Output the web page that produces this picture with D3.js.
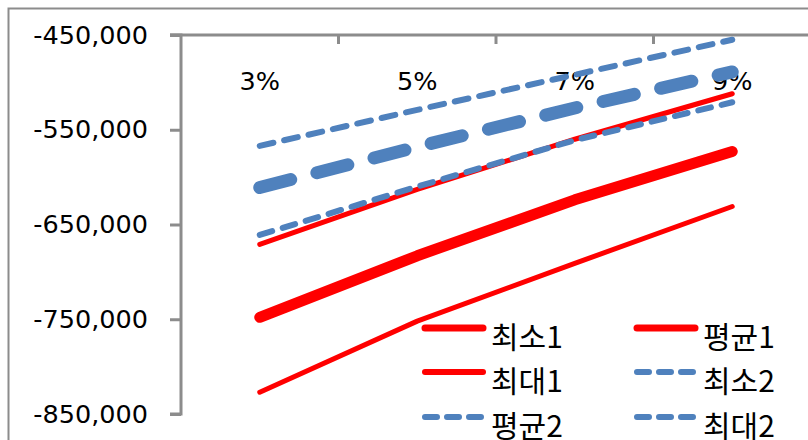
<!DOCTYPE html>
<html>
<head>
<meta charset="utf-8">
<script src="https://cdn.jsdelivr.net/npm/d3@7"></script>
<style>
  body { margin: 0; background: #fff; }
  svg { display: block; }
</style>
</head>
<body>
<div id="chart"></div>
<script>
// categories and series values
const categories = ["3%", "5%", "7%", "9%"];
const min1 = [-827000, -752000, -691000, -631000];
const avg1 = [-748000, -683000, -624000, -573000];
const max1 = [-671000, -613000, -560000, -512000];
const min2 = [-661000, -610000, -561000, -521000];
const avg2 = [-611000, -568000, -527000, -489000];
const max2 = [-567000, -529000, -492000, -455000];
const yTicks = [-450000, -550000, -650000, -750000, -850000];

const series = [
    { name: "최소1", values: min1, color: "#ff0000", width: 5, dash: null, legendWidth: 7 },
    { name: "평균1", values: avg1, color: "#ff0000", width: 11, dash: null, legendWidth: 7 },
    { name: "최대1", values: max1, color: "#ff0000", width: 5, dash: null, legendWidth: 6 },
    { name: "최소2", values: min2, color: "#4f81bd", width: 6, dash: "13,11", legendWidth: 6 },
    { name: "평균2", values: avg2, color: "#4f81bd", width: 13, dash: "32,27", legendWidth: 6 },
    { name: "최대2", values: max2, color: "#4f81bd", width: 6, dash: "14,11", legendWidth: 6 }
];

const width = 808, height = 440;
const svg = d3.select("#chart").append("svg")
    .attr("width", width)
    .attr("height", height);

// outer chart border (cropped)
svg.append("path")
    .attr("d", "M8.5,440 V8.5 H808")
    .attr("fill", "none")
    .attr("stroke", "#8c8c8c")
    .attr("stroke-width", 2);

const x = d3.scaleBand()
    .domain(categories)
    .range([181, 811])
    .padding(0);

const y = d3.scaleLinear()
    .domain([-850000, -450000])
    .range([414, 35]);

const fmt = d3.format(",");
const font = "'DejaVu Sans', Verdana, sans-serif";
const krFont = "'Noto Sans CJK KR', 'DejaVu Sans', sans-serif";

// y axis
const yAxis = svg.append("g")
    .attr("transform", "translate(181,0)")
    .call(d3.axisLeft(y).tickValues(yTicks).tickSize(11).tickPadding(22).tickFormat(d => fmt(d).replace("−", "-")));
yAxis.select(".domain").attr("stroke", "#8c8c8c").attr("stroke-width", 3)
    .attr("d", `M-11,${y(-850000)}H0V${y(-450000)}H-11`);
yAxis.selectAll(".tick line").attr("stroke", "#8c8c8c").attr("stroke-width", 3);
yAxis.selectAll(".tick text")
    .attr("font-family", font)
    .attr("font-size", 25.5)
    .attr("fill", "#000");

// x axis along the top (crosses at -450,000)
const xAxis = svg.append("g")
    .attr("transform", `translate(0,${y(-450000)})`);
xAxis.append("line")
    .attr("x1", 170).attr("x2", width)
    .attr("stroke", "#8c8c8c").attr("stroke-width", 3);
xAxis.selectAll(".xtick")
    .data(categories.slice(1))
    .enter().append("line")
    .attr("x1", d => x(d)).attr("x2", d => x(d))
    .attr("y1", 0).attr("y2", 9)
    .attr("stroke", "#8c8c8c").attr("stroke-width", 3);
xAxis.selectAll(".xlabel")
    .data(categories)
    .enter().append("text")
    .attr("x", d => x(d) + x.bandwidth() / 2)
    .attr("y", 55)
    .attr("text-anchor", "middle")
    .attr("font-family", font)
    .attr("font-size", 25.5)
    .attr("fill", "#000")
    .text(d => d);

// lines
const line = d3.line()
    .x((d, i) => x(categories[i]) + x.bandwidth() / 2)
    .y(d => y(d));

svg.selectAll(".series")
    .data(series)
    .enter().append("path")
    .attr("class", "series")
    .attr("d", d => line(d.values))
    .attr("fill", "none")
    .attr("stroke", d => d.color)
    .attr("stroke-width", d => d.width)
    .attr("stroke-dasharray", d => d.dash)
    .attr("stroke-linecap", "round")
    .attr("stroke-linejoin", "round");

// legend
const legend = svg.append("g");
const item = legend.selectAll(".item")
    .data(series)
    .enter().append("g")
    .attr("transform", (d, i) => `translate(${i % 2 === 0 ? 425 : 637},${[328, 372, 417][Math.floor(i / 2)]})`);
item.append("line")
    .attr("x1", 0).attr("x2", 58)
    .attr("stroke", d => d.color)
    .attr("stroke-width", d => d.legendWidth)
    .attr("stroke-linecap", "round")
    .attr("stroke-dasharray", d => d.dash ? "12,10" : null);
item.append("text")
    .attr("x", 66)
    .attr("y", 20)
    .attr("font-family", krFont)
    .attr("font-size", 30)
    .attr("fill", "#000")
    .text(d => d.name);
</script>
</body>
</html>
